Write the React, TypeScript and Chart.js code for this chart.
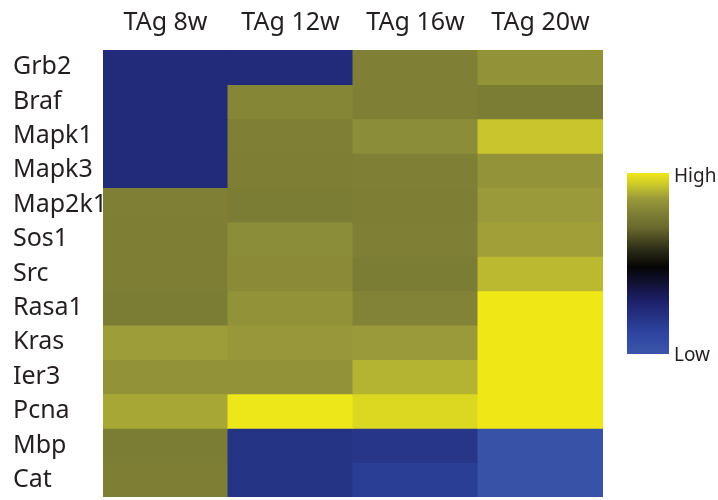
import React, { useEffect, useRef } from "react";
import { Chart, registerables } from "chart.js";

Chart.register(...registerables);

const columns = ["TAg 8w", "TAg 12w", "TAg 16w", "TAg 20w"];
const genes = ["Grb2", "Braf", "Mapk1", "Mapk3", "Map2k1", "Sos1", "Src", "Rasa1", "Kras", "Ier3", "Pcna", "Mbp", "Cat"];

// relative expression, 0 = Low, 1 = High (one array per column, rows in gene order)
const tag8w = [0.24, 0.24, 0.24, 0.24, 0.78, 0.775, 0.775, 0.77, 0.865, 0.835, 0.88, 0.77, 0.775];
const tag12w = [0.24, 0.8, 0.78, 0.775, 0.77, 0.82, 0.815, 0.835, 0.855, 0.835, 0.995, 0.2, 0.2];
const tag16w = [0.78, 0.78, 0.82, 0.78, 0.775, 0.78, 0.77, 0.79, 0.86, 0.9, 0.965, 0.19, 0.15];
const tag20w = [0.835, 0.77, 0.93, 0.84, 0.86, 0.87, 0.91, 1.0, 1.0, 1.0, 1.0, 0.03, 0.03];

const colorStops: [number, string][] = [
  [0.0, "#3b56aa"],
  [0.12, "#2e44a0"],
  [0.3, "#1c1f66"],
  [0.4, "#101030"],
  [0.48, "#050505"],
  [0.58, "#2e2e18"],
  [0.7, "#6a6a2e"],
  [0.78, "#7f8035"],
  [0.86, "#9a9a3a"],
  [0.93, "#c8c62c"],
  [1.0, "#f0e816"],
];

function hexToRgb(h: string) {
  const n = parseInt(h.slice(1), 16);
  return [(n >> 16) & 255, (n >> 8) & 255, n & 255];
}

function colorFor(v: number) {
  for (let i = 1; i < colorStops.length; i++) {
    const [p1, c1] = colorStops[i];
    const [p0, c0] = colorStops[i - 1];
    if (v <= p1) {
      const t = (v - p0) / (p1 - p0);
      const a = hexToRgb(c0);
      const b = hexToRgb(c1);
      const r = a.map((x, k) => Math.round(x + (b[k] - x) * t));
      return `rgb(${r[0]},${r[1]},${r[2]})`;
    }
  }
  return colorStops[colorStops.length - 1][1];
}

const FONT = "'Noto Sans', sans-serif";
const TEXT = "#231f20";

const colorbarPlugin = {
  id: "colorbar",
  afterDraw(chart: any) {
    const { ctx, chartArea } = chart;
    const x = chartArea.right + 24;
    const w = 42;
    const top = chartArea.top + 123;
    const bottom = chartArea.top + 304;
    const g = ctx.createLinearGradient(0, bottom, 0, top);
    colorStops.forEach(([p, c]) => g.addColorStop(p, c));
    ctx.save();
    ctx.fillStyle = g;
    ctx.fillRect(x, top, w, bottom - top);
    ctx.fillStyle = TEXT;
    ctx.font = `19px ${FONT}`;
    ctx.textAlign = "left";
    ctx.textBaseline = "middle";
    ctx.fillText("High", x + w + 5, top + 4);
    ctx.fillText("Low", x + w + 5, bottom + 2);
    ctx.restore();
  },
};

export default function App() {
  const ref = useRef<HTMLCanvasElement | null>(null);

  useEffect(() => {
    document.body.style.margin = "0";
    const cols = [tag8w, tag12w, tag16w, tag20w];
    const datasets = genes.map((g, i) => ({
      label: g,
      data: columns.map(() => 1),
      backgroundColor: cols.map((c) => colorFor(c[i])),
      borderWidth: 0,
      inflateAmount: 0.5,
      categoryPercentage: 1,
      barPercentage: 1,
    }));
    const chart = new Chart(ref.current!, {
      type: "bar",
      data: { labels: columns, datasets },
      plugins: [colorbarPlugin],
      options: {
        animation: false,
        responsive: true,
        maintainAspectRatio: false,
        layout: { padding: { left: 13, right: 115, top: 0, bottom: 3 } },
        plugins: { legend: { display: false }, tooltip: { enabled: false } },
        scales: {
          x: {
            position: "top",
            stacked: true,
            grid: { display: false, drawTicks: false },
            border: { display: false },
            ticks: { font: { family: FONT, size: 25 }, color: TEXT, padding: 12, maxRotation: 0 },
            afterFit: (scale: any) => {
              scale.height = 50;
            },
          },
          y: {
            stacked: true,
            min: 0,
            max: genes.length,
            reverse: true,
            grid: { display: false, drawTicks: false },
            border: { display: false },
            afterBuildTicks: (scale: any) => {
              scale.ticks = genes.map((_, i) => ({ value: i + 0.5 }));
            },
            afterFit: (scale: any) => {
              scale.width = 90;
              scale.paddingTop = 0;
              scale.paddingBottom = 0;
            },
            ticks: {
              autoSkip: false,
              crossAlign: "far",
              padding: 0,
              font: { family: FONT, size: 25 },
              color: TEXT,
              callback: (v: any) => genes[Math.floor(Number(v))],
            },
          },
        },
      },
    });
    return () => chart.destroy();
  }, []);

  return (
    <div style={{ position: "fixed", left: 0, top: 0, width: 718, height: 500 }}>
      <canvas ref={ref} />
    </div>
  );
}
